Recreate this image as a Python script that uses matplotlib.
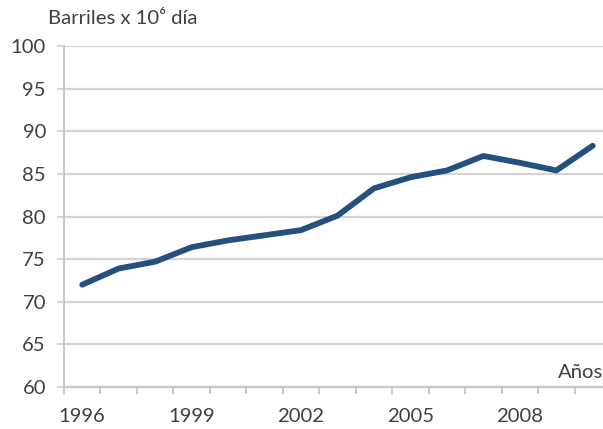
import numpy as np
import matplotlib.pyplot as plt

# datos
anios = list(range(1996, 2011))
barriles = [72.0, 73.9, 74.7, 76.4, 77.2, 77.8, 78.4, 80.1, 83.3, 84.6, 85.4, 87.1, 86.3, 85.4, 88.3]
etiquetas = ['1996', '1999', '2002', '2005', '2008']

plt.rcParams['font.family'] = ['Lato', 'DejaVu Sans']
fs = 14.6

fig = plt.figure(figsize=(6.03, 4.29), dpi=100)
# el area del grafico sale un poco por la derecha, como en el original
ax = fig.add_axes([64/603, 42/429, 547/603, 341/429])

x = np.arange(len(anios))
ax.plot(x, barriles, color='#24507f', lw=4.2, solid_joinstyle='round', solid_capstyle='round', zorder=3)

ax.set_xlim(-0.5, len(anios) - 0.5)
ax.set_ylim(60, 100)
ax.set_yticks(range(60, 101, 5))
ax.grid(axis='y', color='#d4d4d4', lw=1.6)
ax.set_axisbelow(True)

pos = [anios.index(int(e)) for e in etiquetas]
ax.set_xticks(pos)
ax.set_xticklabels(etiquetas)
ax.set_xticks(np.arange(-0.5, len(anios), 1), minor=True)
ax.tick_params(axis='x', which='major', length=0, pad=15, labelsize=fs, labelcolor='#404040')
ax.tick_params(axis='x', which='minor', length=5, width=1.2, color='#bfbfbf', direction='out')
ax.tick_params(axis='y', length=5, width=1.4, color='#d4d4d4', pad=8, labelsize=fs, labelcolor='#404040')

for s in ['top', 'right']:
    ax.spines[s].set_visible(False)
ax.spines['left'].set_color('#c8c8c8')
ax.spines['left'].set_linewidth(1.4)
ax.spines['bottom'].set_color('#c8c8c8')
ax.spines['bottom'].set_linewidth(1.6)

fig.text(48/603, 1 - 19/429, 'Barriles x 10\u2076 día', fontsize=fs, color='#404040', va='center', ha='left')
fig.text(1.0, 1 - 372/429, 'Años', fontsize=fs, color='#404040', va='center', ha='right')

fig.savefig('out.png', dpi=100)
